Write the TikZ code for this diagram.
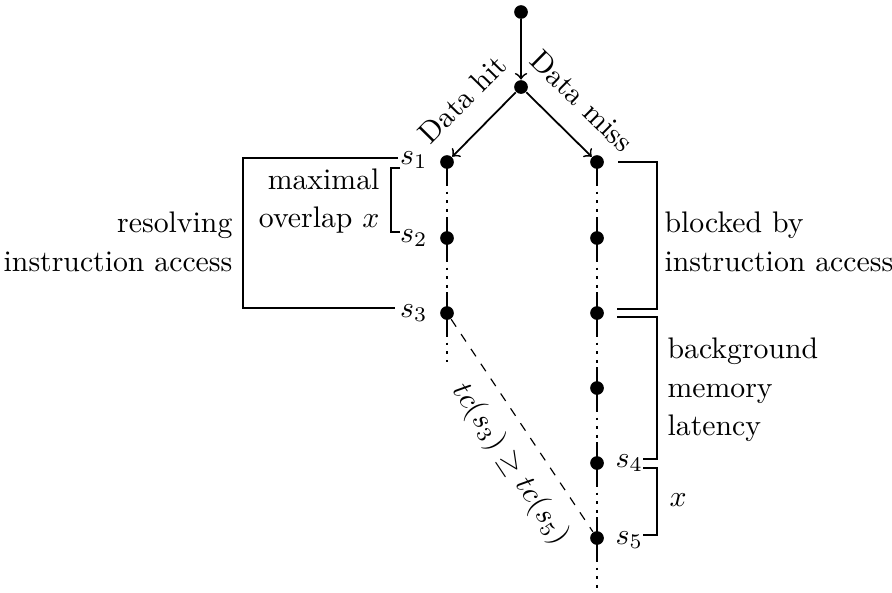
\documentclass[tikz,border=0pt]{standalone}
\usetikzlibrary{calc}
\begin{document}
\begin{tikzpicture}[x=0.336pt,y=-0.336pt,
  dot/.style={circle,fill,inner sep=0pt,minimum size=4.6pt},
  flow/.style={semithick,->},
  colline/.style={line width=0.9pt},
  gapline/.style={line width=0.9pt,dotted},
  brk/.style={line width=0.4pt},
  slabel/.style={inner sep=1pt},
  note/.style={inner sep=0pt,font={\fontsize{10}{13}\selectfont}}]
\useasboundingbox (0,0) rectangle (892,592);

% decision points
\node[dot] (T) at (521,12) {};
\node[dot] (M) at (521,87) {};
\node[dot] (L1) at (447,162) {};
\node[dot] (L2) at (447,238) {};
\node[dot] (L3) at (447,313) {};
\node[dot] (R1) at (597,162) {};
\node[dot] (R2) at (597,238) {};
\node[dot] (R3) at (597,313) {};
\node[dot] (R4) at (597,388) {};
\node[dot] (R5) at (597,463) {};
\node[dot] (R6) at (597,538) {};
\coordinate (Lend) at (447,362);
\coordinate (Rend) at (597,590);

% branching
\draw[flow] (T) -- (M);
\draw[flow] (M) -- node[sloped,above=4pt,pos=0.47] {Data hit} (L1);
\draw[flow] (M) -- node[sloped,above=4pt,pos=0.5] {Data miss} (R1);

% timelines: solid stubs with a dotted gap in between
\newcommand\timeseg[2]{%
  \draw[colline] (#1.center) -- ($(#1.center)+(0,21)$);
  \draw[gapline] ($(#1.center)+(0,21)$) -- ($(#2.center)+(0,-21)$);
  \draw[colline] ($(#2.center)+(0,-21)$) -- (#2.center);}
\timeseg{L1}{L2}
\timeseg{L2}{L3}
\draw[colline] (L3.center) -- ($(L3.center)+(0,21)$);
\draw[gapline] ($(L3.center)+(0,21)$) -- (Lend);
\timeseg{R1}{R2}
\timeseg{R2}{R3}
\timeseg{R3}{R4}
\timeseg{R4}{R5}
\timeseg{R5}{R6}
\draw[colline] (R6.center) -- ($(R6.center)+(0,21)$);
\draw[gapline] ($(R6.center)+(0,21)$) -- (Rend);

% state labels
\node[slabel,anchor=east] (s1) at (431,160) {$s_1$};
\node[slabel,anchor=east] (s2) at (431,238) {$s_2$};
\node[slabel,anchor=east] (s3) at (431,313) {$s_3$};
\node[slabel,anchor=west] (s4) at (612,463) {$s_4$};
\node[slabel,anchor=west] (s5) at (612,540) {$s_5$};

% left brackets
\draw[brk] (398,158) -- (243,158) -- (243,308) -- (395,308);
\draw[brk] (400,168) -- (391,168) -- (391,232) -- (400,232);
\node[note,align=right,anchor=east] (res) at (233,242) {resolving\\instruction access};
\node[note,align=right,anchor=east] (ovl) at (380,201) {maximal\\overlap $x$};

% right brackets
\draw[brk] (618,162) -- (657,162) -- (657,309) -- (617,309);
\draw[brk] (617,317) -- (657,317) -- (657,459) -- (643,459);
\draw[brk] (643,468) -- (657,468) -- (657,535) -- (643,535);
\node[note,align=left,anchor=west] (blk) at (664,242) {blocked by\\instruction access};
\node[note,align=left,anchor=west] (bgm) at (667,390) {background\\memory\\latency};
\node[note,anchor=west] (xx) at (669,500) {$x$};

% timing relation
\draw[dashed] (L3) -- node[sloped,below=2pt,pos=0.6] {$tc(s_3) \geq tc(s_5)$} (R6);
\end{tikzpicture}
\end{document}
